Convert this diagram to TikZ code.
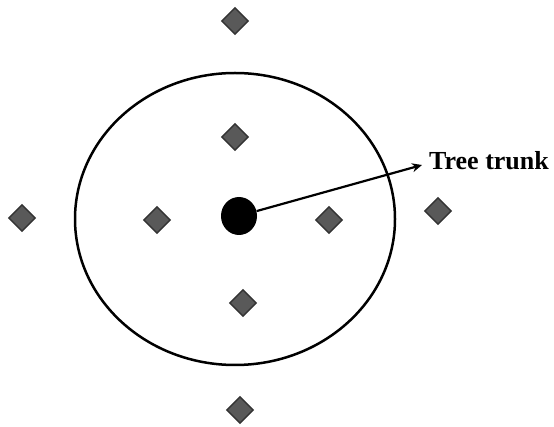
\documentclass[tikz,border=0pt]{standalone}
\usepackage{fontspec}
\setmainfont{Liberation Serif}
\usetikzlibrary{shapes.geometric,arrows.meta}
\tikzset{
  plant/.style={shape=diamond, draw=black!80, fill=black!65, line width=1.4pt, minimum width=27pt, minimum height=27pt, inner sep=0pt},
  trunkdot/.style={ellipse, fill=black, minimum width=36pt, minimum height=38pt, inner sep=0pt},
  boundary/.style={draw=black, line width=2.5pt},
  pointer/.style={line width=2.2pt, -{Stealth[length=10pt,width=9pt]}},
  lbl/.style={font=\bfseries\fontsize{26}{30}\selectfont, inner sep=0pt, anchor=west}
}
\begin{document}
\begin{tikzpicture}[x=1pt,y=-1pt]
\useasboundingbox (0,0) rectangle (554,427);
\draw[boundary] (235,219) ellipse [x radius=160, y radius=146];
\node[trunkdot] (trunk) at (239,216) {};
\node[plant] (it) at (235,137) {};
\node[plant] (il) at (157,220) {};
\node[plant] (ir) at (329,220) {};
\node[plant] (ib) at (243,303) {};
\node[plant] (ot) at (235,21) {};
\node[plant] (ol) at (22,218) {};
\node[plant] (or) at (438,211) {};
\node[plant] (ob) at (240,410) {};
\coordinate (tip) at (422,165);
\node[lbl] (label) at (429,161) {Tree trunk};
\draw[pointer] (trunk) -- (tip);
\end{tikzpicture}
\end{document}
